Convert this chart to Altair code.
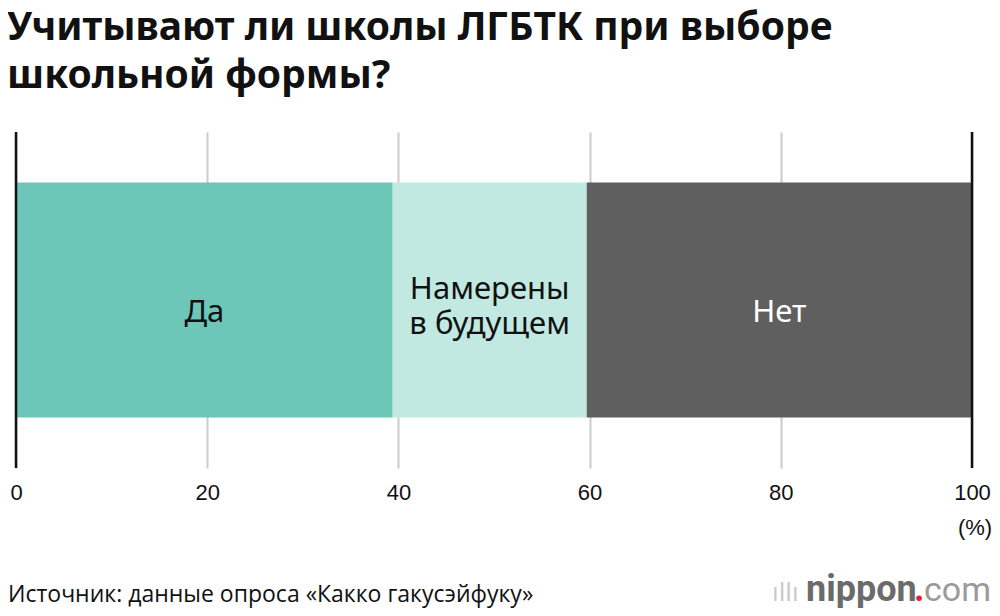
import altair as alt
import pandas as pd

categories = ["Да", "Намерены в будущем", "Нет"]
label_lines = [["Да"], ["Намерены", "в будущем"], ["Нет"]]
values = [39.4, 20.3, 40.3]
colors = ["#6cc7b9", "#c1e9e2", "#5f5f5f"]
label_colors = ["#111111", "#111111", "#ffffff"]
ticks = [0, 20, 40, 60, 80, 100]
edges = [0, 100]
title_lines = ["Учитывают ли школы ЛГБТК при выборе", "школьной формы?"]
source_text = "Источник: данные опроса «Какко гакусэйфуку»"
unit_text = "(%)"

df = pd.DataFrame({"cat": categories, "value": values, "row": "all",
                   "tcolor": label_colors})
df["end"] = df["value"].cumsum()
df["start"] = df["end"] - df["value"]
df["mid"] = (df["start"] + df["end"]) / 2
df["label"] = label_lines
df["n"] = [len(l) for l in label_lines]

xscale = alt.Scale(domain=[0, 100], nice=False, zero=True)
yscale = alt.Scale(paddingOuter=0.215, paddingInner=0)
xaxis = alt.Axis(values=ticks, grid=True, gridColor="#cccccc", gridWidth=2,
                 domain=False, ticks=False, labelFontSize=22,
                 labelFont="Liberation Sans", labelColor="#111111",
                 labelPadding=14, labelFlush=False, labelOverlap=False, title=None)

bars = alt.Chart(df).mark_bar().encode(
    x=alt.X("start:Q", scale=xscale, axis=xaxis),
    x2="end:Q",
    y=alt.Y("row:N", axis=None, scale=yscale),
    color=alt.Color("cat:N", scale=alt.Scale(domain=categories, range=colors), legend=None),
)

edge_rules = alt.Chart(pd.DataFrame({"x": edges})).mark_rule(
    color="#111111", strokeWidth=2.5
).encode(x=alt.X("x:Q", scale=xscale, axis=xaxis))

def label_layer(nlines, dy):
    return alt.Chart(df).transform_filter(
        alt.datum.n == nlines
    ).mark_text(
        font="Noto Sans", fontSize=31, lineHeight=35, baseline="middle",
        align="center", dy=dy
    ).encode(
        x=alt.X("mid:Q", scale=xscale, axis=xaxis),
        y=alt.Y("row:N", axis=None, scale=yscale),
        text="label",
        color=alt.Color("tcolor:N", scale=None),
    )

labels1 = label_layer(1, 13)
labels2 = label_layer(2, -10)

one = pd.DataFrame({"a": [0]})

title = alt.Chart(one).mark_text(
    text=title_lines, font="Noto Sans", fontWeight="bold", fontSize=39,
    lineHeight=48, align="left", baseline="alphabetic", color="#111111"
).encode(x=alt.value(-9), y=alt.value(-92))

unit = alt.Chart(one).mark_text(
    text=unit_text, font="Liberation Sans", fontSize=22, align="center",
    baseline="alphabetic", color="#111111"
).encode(x=alt.value(959), y=alt.value(403))

source = alt.Chart(one).mark_text(
    text=source_text, font="Open Sans", fontSize=23, align="left",
    baseline="alphabetic", color="#111111"
).encode(x=alt.value(-8), y=alt.value(470))

logo_icon = alt.Chart(one).mark_text(
    text="ıllı", font="DejaVu Sans", fontSize=24, align="left",
    baseline="alphabetic", color="#c8c8c8"
).encode(x=alt.value(756), y=alt.value(469))

logo_main = alt.Chart(one).mark_text(
    text="nippon", font="Roboto", fontWeight="bold", fontSize=36, align="left",
    baseline="alphabetic", color="#6b6b6b"
).encode(x=alt.value(790), y=alt.value(469))

logo_dot = alt.Chart(one).mark_text(
    text=".", font="Roboto", fontWeight="bold", fontSize=36, align="left",
    baseline="alphabetic", color="#e8202a"
).encode(x=alt.value(898), y=alt.value(469))

logo_com = alt.Chart(one).mark_text(
    text="com", font="Roboto", fontWeight="normal", fontSize=34, align="left",
    baseline="alphabetic", color="#9a9a9a"
).encode(x=alt.value(908), y=alt.value(469))

chart = alt.layer(
    bars, edge_rules, labels1, labels2, title, unit, source,
    logo_icon, logo_main, logo_dot, logo_com
).properties(
    width=956, height=336,
    background="white",
    autosize=alt.AutoSizeParams(type="none"),
    padding={"left": 8, "top": 124, "right": 20, "bottom": 140},
).configure_view(stroke=None)

chart.save("out.html", embed_options={"renderer": "svg", "actions": False})
